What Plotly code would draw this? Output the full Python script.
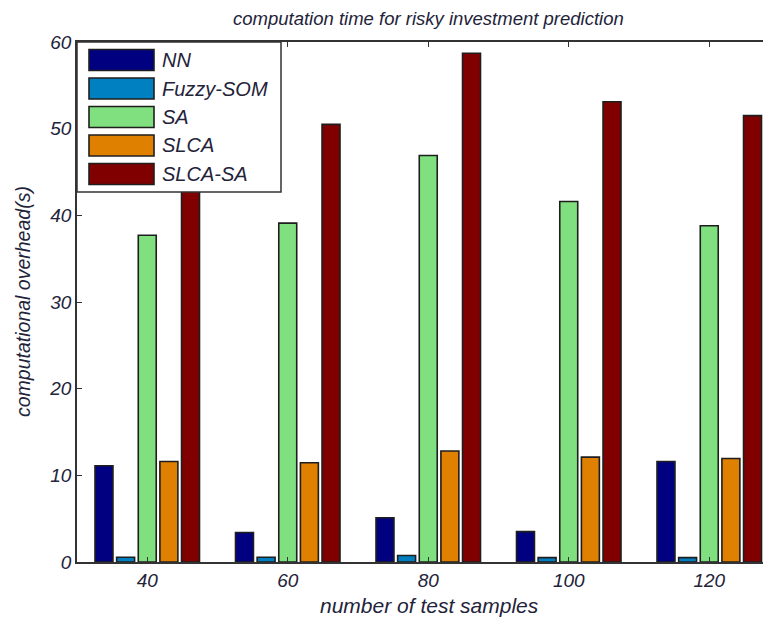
import plotly.graph_objects as go

samples = [40, 60, 80, 100, 120]
series_names = ["NN", "Fuzzy-SOM", "SA", "SLCA", "SLCA-SA"]
nn = [11.1, 3.4, 5.1, 3.5, 11.6]
fuzzy_som = [0.55, 0.55, 0.75, 0.5, 0.5]
sa = [37.7, 39.1, 46.9, 41.6, 38.8]
slca = [11.6, 11.45, 12.8, 12.1, 11.95]
slca_sa = [45.0, 50.5, 58.7, 53.1, 51.5]
series_values = [nn, fuzzy_som, sa, slca, slca_sa]
colors = ["#000080", "#0080c0", "#80e080", "#e08000", "#800000"]
y_ticks = [0, 10, 20, 30, 40, 50, 60]

# page has an 8px body margin; figure is sized so the page is 771x618
OFF = 8
W, H = 771 - OFF, 618 - OFF
PL, PT, PB = 77, 42, 562          # plot area edges in page pixels
PW, PH = 771 - PL, PB - PT
TXT = "#23233a"
FONT = "Liberation Sans"


def px(x):
    return (x - PL) / PW


def py(y):
    return (PB - y) / PH


fig = go.Figure()
for name, vals, c in zip(series_names, series_values, colors):
    fig.add_trace(go.Bar(x=samples, y=vals, name=name,
                         marker=dict(color=c, line=dict(color="#1e1e1e", width=1.6)),
                         showlegend=False))

fig.update_layout(
    width=W, height=H,
    margin=dict(l=PL - OFF, r=0, t=PT - OFF, b=H - (PB - OFF), pad=0),
    paper_bgcolor="white", plot_bgcolor="white",
    barmode="group", bargap=0.23, bargroupgap=0.17,
    font=dict(family=FONT, color=TXT, size=18, style="italic"),
)
fig.update_xaxes(range=[30, 30 + PW / 7.025], tickvals=samples, ticktext=[str(s) for s in samples],
                 showline=True, linecolor="#333333", linewidth=1.5, mirror="ticks", ticks="inside",
                 ticklen=5, tickcolor="#333333", showgrid=False, zeroline=False,
                 tickfont=dict(family=FONT, size=19, color=TXT, style="italic"))
fig.update_yaxes(range=[0, 60], tickvals=y_ticks, showline=True, linecolor="#333333", linewidth=1.5,
                 ticks="inside", ticklen=5, tickcolor="#333333", showgrid=False, zeroline=False,
                 tickfont=dict(family=FONT, size=19, color=TXT, style="italic"))

# titles
fig.add_annotation(text="computation time for risky investment prediction", xref="paper", yref="paper",
                   x=px(428), y=py(19), showarrow=False, xanchor="center", yanchor="middle",
                   font=dict(family=FONT, size=18.5, color=TXT, style="italic"))
fig.add_annotation(text="number of test samples", xref="paper", yref="paper",
                   x=px(429), y=py(605), showarrow=False, xanchor="center", yanchor="middle",
                   font=dict(family=FONT, size=21, color=TXT, style="italic"))
fig.add_annotation(text="computational overhead(s)", xref="paper", yref="paper",
                   x=px(23), y=py(302), showarrow=False, xanchor="center", yanchor="middle", textangle=-90,
                   font=dict(family=FONT, size=19.5, color=TXT, style="italic"))

# legend box
fig.add_shape(type="rect", xref="paper", yref="paper", x0=px(77), x1=px(281), y0=py(192), y1=py(42),
              fillcolor="white", line=dict(color="#333333", width=1.5), layer="above")
for i, (name, c) in enumerate(zip(series_names, colors)):
    cy = 60 + i * 28.5
    fig.add_shape(type="rect", xref="paper", yref="paper", x0=px(89), x1=px(154), y0=py(cy + 10.5),
                  y1=py(cy - 10.5), fillcolor=c, line=dict(color="#1e1e1e", width=1.6), layer="above")
    fig.add_annotation(text=name, xref="paper", yref="paper", x=px(160), y=py(cy), showarrow=False,
                       xanchor="left", yanchor="middle",
                       font=dict(family=FONT, size=20, color=TXT, style="italic"))

fig.write_html("out.html")
